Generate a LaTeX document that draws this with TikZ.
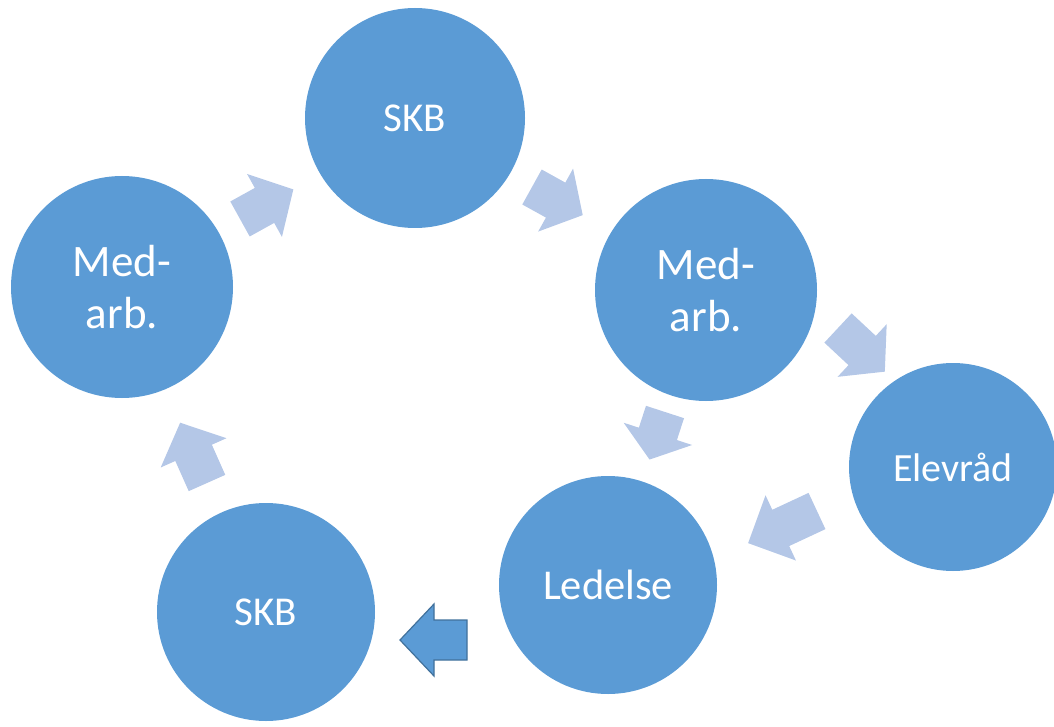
\documentclass[tikz,border=0pt]{standalone}
\usepackage{fontspec}
\setmainfont{Carlito}
\definecolor{circblue}{HTML}{5B9BD5}
\definecolor{lightarr}{HTML}{B4C7E7}
\definecolor{darkline}{HTML}{41719C}
\newcommand{\blockarr}[6]{%
  \path[#6, shift={(#1,#2)}, rotate=#3]
    (0,-20) -- ({#4-#5},-20) -- ({#4-#5},-36) -- (#4,0) -- ({#4-#5},36) -- ({#4-#5},20) -- (0,20) -- cycle;}
\begin{document}
\begin{tikzpicture}[x=1pt,y=-1pt,
  bubble/.style={circle, fill=circblue, text=white, minimum size=#1, inner sep=0pt, align=center},
  lightstyle/.style={fill=lightarr},
  darkstyle/.style={fill=circblue, draw=darkline, line width=1.2pt, line join=miter}]
\useasboundingbox (0,0) rectangle (1054,727);
% circles
\node[bubble=220pt, font=\fontsize{41}{48}\selectfont] (skbtop) at (415,118) {SKB};
\node[bubble=222pt, font=\fontsize{45}{52}\selectfont] (medleft) at (122,287) {Med-\\arb.};
\node[bubble=222pt, font=\fontsize{45}{52}\selectfont] (medright) at (706,290) {Med-\\arb.};
\node[bubble=208pt, font=\fontsize{40}{46}\selectfont] (elev) at (953,467) {Elevråd};
\node[bubble=218pt, font=\fontsize{42.5}{48}\selectfont] (ledelse) at (608,585) {Ledelse};
\node[bubble=218pt, font=\fontsize{41}{48}\selectfont] (skbbot) at (266,612) {SKB};
% block arrows
\blockarr{240}{219}{29}{61}{33}{lightstyle}
\blockarr{532}{187}{-29}{58}{31}{lightstyle}
\blockarr{838}{328}{-43}{64}{31}{lightstyle}
\blockarr{665}{412}{-108}{50}{27}{lightstyle}
\blockarr{817}{511}{-155}{76}{36}{lightstyle}
\blockarr{207}{483}{114}{66}{33}{lightstyle}
\blockarr{467}{640}{180}{67}{34}{darkstyle}
\end{tikzpicture}
\end{document}
